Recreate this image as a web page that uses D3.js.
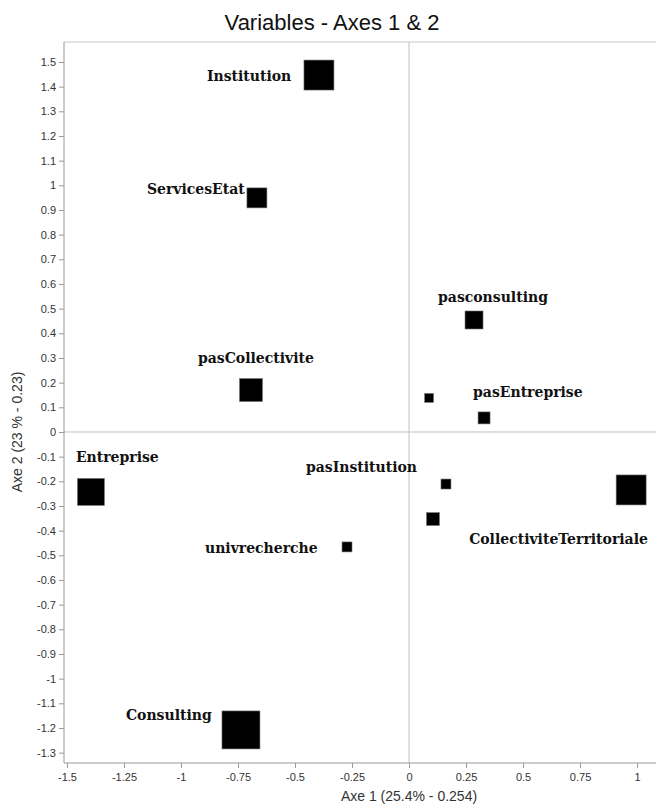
<!DOCTYPE html>
<html><head><meta charset="utf-8">
<script src="https://cdn.jsdelivr.net/npm/d3@7"></script>
<style>body{margin:0;background:#fff}svg{display:block}</style>
</head><body>
<svg id="c" width="657" height="806"></svg>
<script>
// ---- data ----
const names = ["Institution","ServicesEtat","pasCollectivite","pasconsulting","","pasEntreprise","Entreprise","pasInstitution","","univrecherche","CollectiviteTerritoriale","Consulting"];
const axis1 = [-0.395,-0.667,-0.693,0.285,0.088,0.329,-1.395,0.162,0.105,-0.272,0.974,-0.737];
const axis2 = [1.447,0.949,0.170,0.454,0.138,0.057,-0.243,-0.211,-0.353,-0.466,-0.235,-1.208];
const weights = [30,20,23,18,9,12,27,10,13,10,30,38];
const xTickValues = [-1.5,-1.25,-1,-0.75,-0.5,-0.25,0,0.25,0.5,0.75,1];
const yTickValues = [1.5,1.4,1.3,1.2,1.1,1,0.9,0.8,0.7,0.6,0.5,0.4,0.3,0.2,0.1,0,-0.1,-0.2,-0.3,-0.4,-0.5,-0.6,-0.7,-0.8,-0.9,-1,-1.1,-1.2,-1.3];
// label placement (pixels, relative to marker centre)
const labelOffsets = [[-112,1],[-110,-9],[-53,-32],[-36,-23],[0,0],[-11,-26],[-15,-35],[-140,-17],[0,0],[-142,1],[-162,49],[-115,-15]];

// ---- layout ----
const svg = d3.select("#c");
const L = 64, T = 42, R = 656, B = 763;
const x = d3.scaleLinear().domain([-1.513,1.083]).range([L,R]);
const y = d3.scaleLinear().domain([-1.342,1.581]).range([B,T]);
const size = d3.scaleLinear().domain([0,1]).range([0,1]);
const fmt = v => String(v);

// title
svg.append("text").attr("x",332).attr("y",30).attr("text-anchor","middle")
  .attr("font-family","Liberation Sans Narrow, Liberation Sans, sans-serif").attr("font-size",22).attr("fill","#111")
  .text("Variables - Axes 1 & 2");

// frame top
svg.append("line").attr("x1",L).attr("x2",R).attr("y1",T).attr("y2",T).attr("stroke","#c8c8c8");
// zero lines
svg.append("line").attr("x1",x(0)).attr("x2",x(0)).attr("y1",T).attr("y2",B).attr("stroke","#c0c0c0");
svg.append("line").attr("x1",L).attr("x2",R).attr("y1",y(0)).attr("y2",y(0)).attr("stroke","#c0c0c0");

// axes
const xAxis = svg.append("g").attr("transform",`translate(0,${B})`)
  .call(d3.axisBottom(x).tickValues(xTickValues).tickFormat(fmt).tickSize(5).tickSizeOuter(0));
const yAxis = svg.append("g").attr("transform",`translate(${L},0)`)
  .call(d3.axisLeft(y).tickValues(yTickValues).tickFormat(fmt).tickSize(5).tickSizeOuter(0));
[xAxis,yAxis].forEach(g=>{
  g.select(".domain").attr("stroke","#999");
  g.selectAll(".tick line").attr("stroke","#999");
  g.selectAll(".tick text").attr("fill","#333").attr("font-family","Liberation Sans, Arial, sans-serif").attr("font-size",11);
});
yAxis.select(".domain").attr("d",`M0,${T}V${B}`);
xAxis.select(".domain").attr("d",`M${L},0H${R}`);
xAxis.selectAll(".tick text").attr("dy","0.9em");

// axis titles
svg.append("text").attr("x",x(0)).attr("y",801).attr("text-anchor","middle")
  .attr("font-family","Liberation Sans Narrow, Liberation Sans, sans-serif").attr("font-size",14).attr("fill","#333")
  .text("Axe 1 (25.4% - 0.254)");
svg.append("text").attr("transform",`translate(22,${y(0)}) rotate(-90)`).attr("text-anchor","middle")
  .attr("font-family","Liberation Sans Narrow, Liberation Sans, sans-serif").attr("font-size",14).attr("fill","#333")
  .text("Axe 2 (23 % - 0.23)");

// points
const pts = names.map((n,i)=>({n,a:axis1[i],b:axis2[i],w:weights[i],o:labelOffsets[i]}));
svg.append("g").selectAll("rect").data(pts).join("rect")
  .attr("x",d=>x(d.a)-size(d.w)/2).attr("y",d=>y(d.b)-size(d.w)/2)
  .attr("width",d=>size(d.w)).attr("height",d=>size(d.w))
  .attr("fill","#000").attr("stroke","#777").attr("stroke-width",0.6);
svg.append("g").selectAll("text").data(pts.filter(d=>d.n)).join("text")
  .attr("x",d=>x(d.a)+d.o[0]).attr("y",d=>y(d.b)+d.o[1]).attr("dy","0.35em")
  .attr("font-family","DejaVu Serif, serif").attr("font-weight","bold").attr("font-size",14).attr("fill","#111")
  .text(d=>d.n);
</script>
</body></html>
